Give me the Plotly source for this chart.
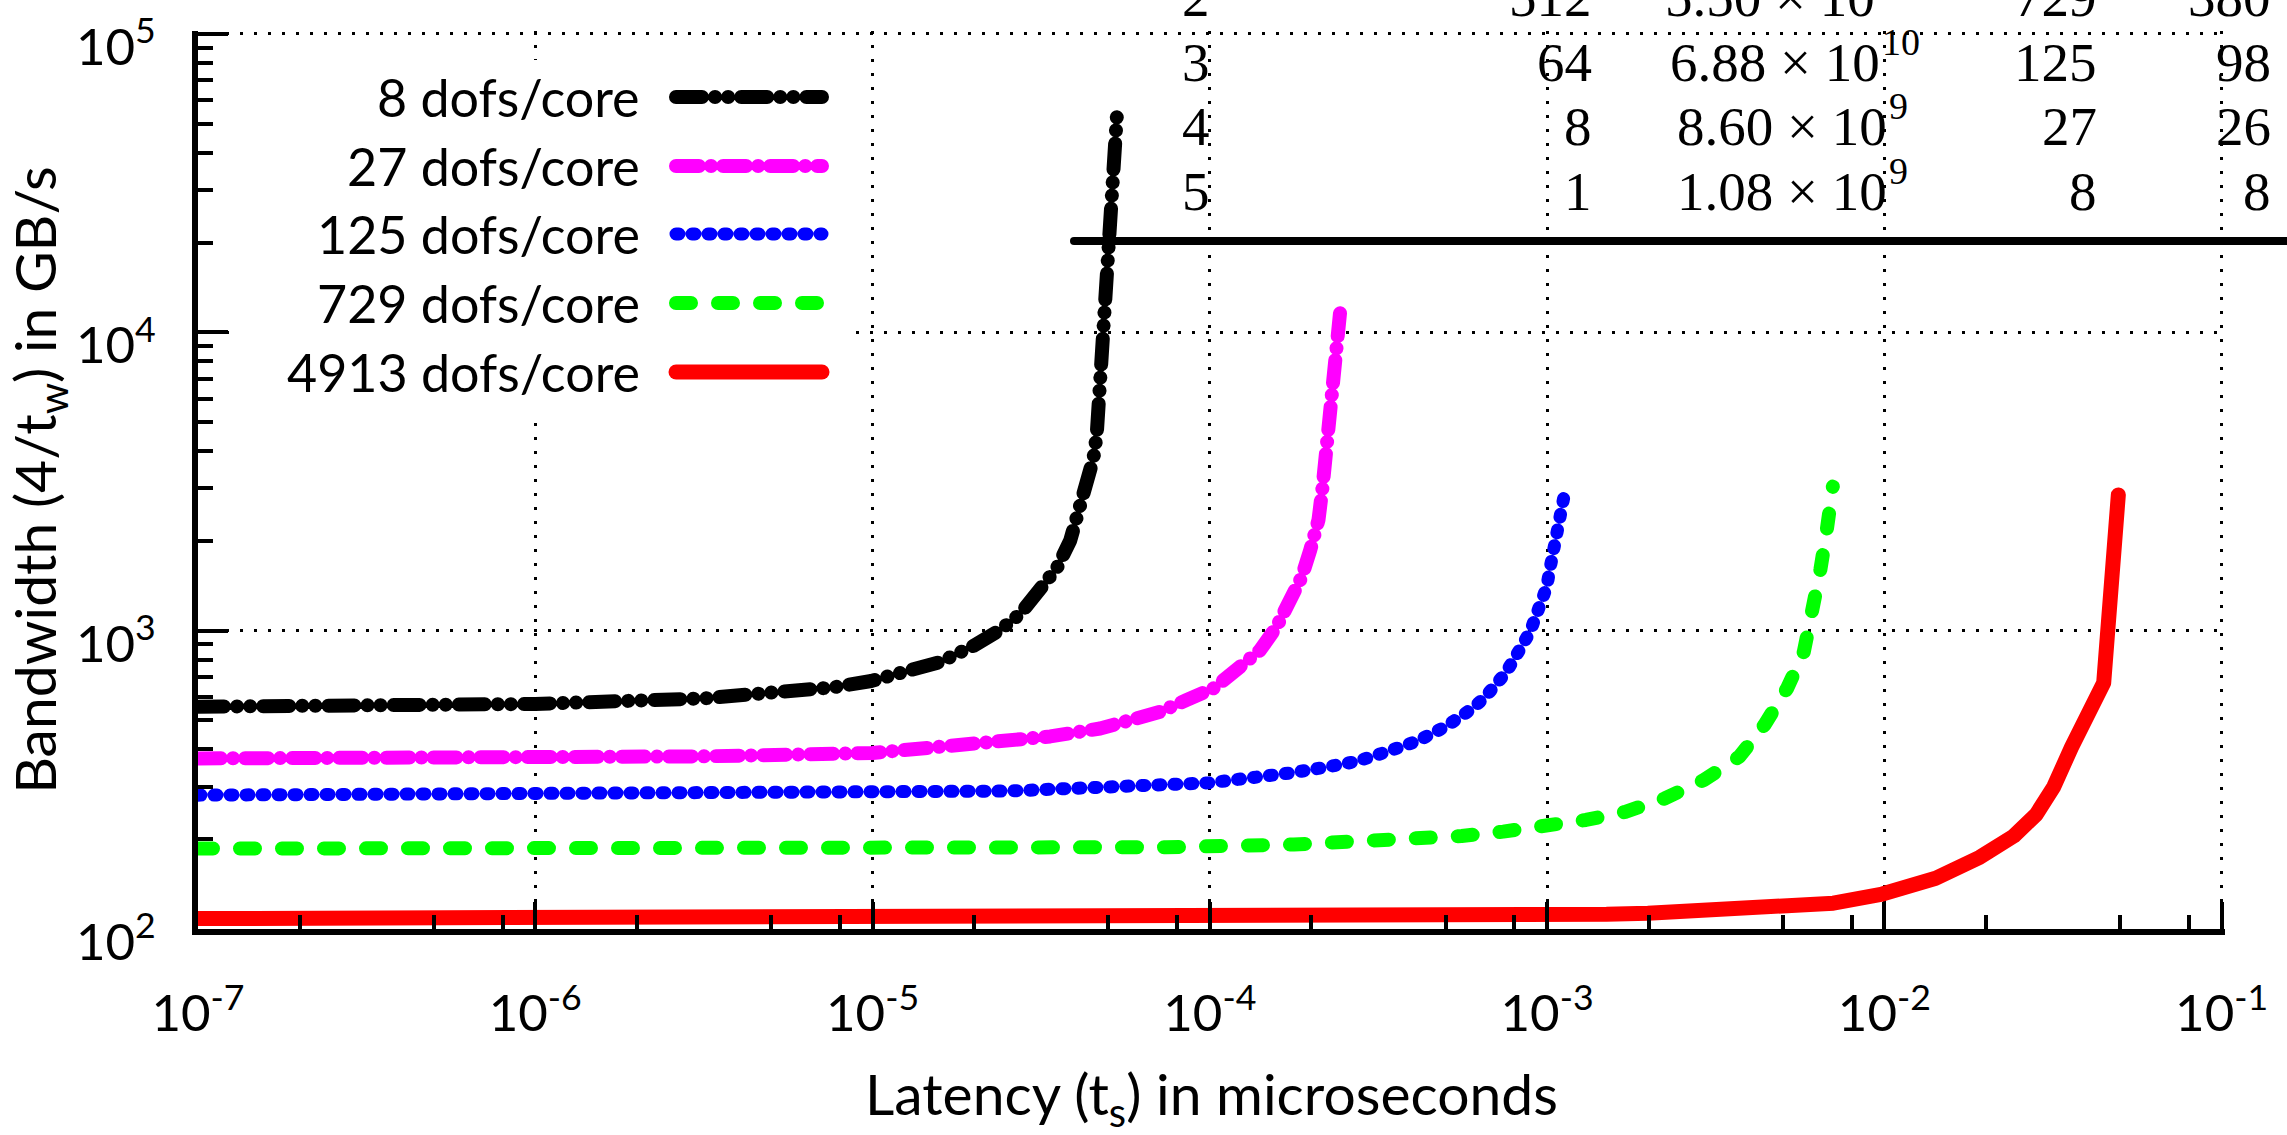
import plotly.graph_objects as go

# ---------------- data ----------------
series_names = ["8 dofs/core", "27 dofs/core", "125 dofs/core", "729 dofs/core", "4913 dofs/core"]

x_8 = [1e-7, 3.16e-7, 1e-6, 3.16e-6, 4.85e-6, 7.66e-6, 9.91e-6, 1.265e-5, 1.585e-5, 1.99e-5,
       2.39e-5, 2.74e-5, 3.14e-5, 3.52e-5, 3.855e-5, 4.13e-5, 4.315e-5, 4.52e-5, 4.62e-5,
       4.73e-5, 4.84e-5, 4.90e-5, 5.05e-5, 5.16e-5, 5.18e-5, 5.30e-5]
y_8 = [556, 558, 568, 593, 612, 646, 678, 731, 785, 889,
       1005, 1138, 1358, 1622, 2004, 2570, 3184, 3793, 4529,
       7194, 9886, 15136, 22750, 29650, 40830, 52720]

x_27 = [1e-7, 1e-6, 3.16e-6, 1e-5, 2.39e-5, 3.365e-5, 4.73e-5, 5.94e-5, 7.13e-5, 8.55e-5,
        1.026e-4, 1.23e-4, 1.41e-4, 1.58e-4, 1.73e-4, 1.875e-4, 1.986e-4, 2.10e-4, 2.16e-4,
        2.22e-4, 2.286e-4, 2.33e-4, 2.38e-4, 2.43e-4, 2.45e-4]
y_27 = [373, 375, 379, 389, 419, 442, 470, 502, 535, 586,
        641, 757, 861, 1033, 1236, 1517, 1866, 2350, 3041,
        4140, 5636, 7096, 8954, 11140, 12580]

x_125 = [1e-7, 1e-6, 1e-5, 2.51e-5, 1e-4, 1.393e-4, 1.75e-4, 2.19e-4, 2.71e-4, 3.36e-4,
         4.15e-4, 4.99e-4, 5.51e-4, 6.03e-4, 6.53e-4, 7.05e-4, 7.52e-4, 7.96e-4, 8.41e-4,
         8.91e-4, 9.25e-4, 9.62e-4, 9.98e-4, 1.016e-3, 1.040e-3, 1.064e-3, 1.086e-3,
         1.107e-3, 1.132e-3]
y_125 = [281, 282, 283, 290, 309, 320, 334, 348, 364, 393,
         428, 476, 508, 550, 597, 653, 719, 798, 883,
         993, 1114, 1250, 1403, 1578, 1795, 2037, 2291,
         2570, 2963]

x_729 = [1e-7, 1e-6, 1e-5, 7.41e-5, 1.774e-4, 2.355e-4, 3.13e-4, 4.21e-4, 5.58e-4, 7.41e-4,
         9.84e-4, 1.303e-3, 1.706e-3, 2.234e-3, 2.92e-3, 3.715e-3, 4.41e-3, 5.15e-3,
         5.77e-3, 6.15e-3, 6.46e-3, 6.75e-3, 7.035e-3]
y_729 = [186, 186, 187, 188, 192, 194, 197, 201, 205, 212,
         220, 232, 247, 274, 316, 378, 483, 641,
         849, 1143, 1598, 2178, 3041]

x_4913 = [1e-7, 1e-5, 1e-4, 3.16e-4, 9.84e-4, 1.5e-3, 1.99e-3, 3.16e-3, 4.53e-3, 7.06e-3,
          9.86e-3, 1.42e-2, 1.92e-2, 2.42e-2, 2.82e-2, 3.18e-2, 3.59e-2, 4.47e-2, 4.94e-2]
y_4913 = [108.4, 108.6, 109, 110, 111, 112, 113, 115, 118, 122,
          131, 148, 174, 205, 242, 300, 407, 668, 2851]

x_tick_vals = [1e-7, 1e-6, 1e-5, 1e-4, 1e-3, 1e-2, 1e-1]
x_tick_text = ["10<sup>-7</sup>", "10<sup>-6</sup>", "10<sup>-5</sup>", "10<sup>-4</sup>",
               "10<sup>-3</sup>", "10<sup>-2</sup>", "10<sup>-1</sup>"]
y_tick_vals = [1e2, 1e3, 1e4, 1e5]
y_tick_text = ["10<sup>2</sup>", "10<sup>3</sup>", "10<sup>4</sup>", "10<sup>5</sup>"]

# partially visible table (top right)
tab_col1 = ["2", "3", "4", "5"]
tab_col2 = ["512", "64", "8", "1"]
tab_mant = ["5.50", "6.88", "8.60", "1.08"]
tab_expo = ["11", "10", "9", "9"]
tab_col4 = ["729", "125", "27", "8"]
tab_col5 = ["380", "98", "26", "8"]

# ---------------- styling ----------------
W, H = 2287, 1135
L, R, T, B = 198, 62, 31, 206
PW, PH = W - L - R, H - T - B


def px(xp):
    return (xp - L) / PW


def py(yp):
    return (H - B - yp) / PH


colors = ["#000000", "#ff00ff", "#0000ff", "#00ff00", "#ff0000"]
widths = [14, 14, 13, 14, 15]
dashes = ["26px,13px,0.1px,13px,0.1px,13px", "23px,12px,0.1px,12px", "3px,13px", "15px,27px", "solid"]
xs = [x_8, x_27, x_125, x_729, x_4913]
ys = [y_8, y_27, y_125, y_729, y_4913]

fig = go.Figure()
for name, xv, yv, c, w, d in zip(series_names, xs, ys, colors, widths, dashes):
    fig.add_trace(go.Scatter(x=xv, y=yv, mode="lines", name=name, showlegend=False,
                             line=dict(color=c, width=w, dash=d), hoverinfo="skip"))

FONT = "Lato"
x_minor = [m * 10 ** e for e in range(-7, -1) for m in (2, 5, 8)]
y_minor = [m * 10 ** e for e in range(2, 5) for m in range(2, 10)]

grid = dict(showgrid=True, gridcolor="black", gridwidth=3, griddash="3px,11px")
fig.update_xaxes(type="log", range=[-7, -0.99], showline=True, linewidth=6, linecolor="black",
                 ticks="inside", ticklen=27, tickwidth=4, tickcolor="black",
                 tickmode="array", tickvals=x_tick_vals, ticktext=x_tick_text,
                 tickfont=dict(family=FONT, size=51, color="black"), ticklabelstandoff=35,
                 ticklabeloverflow="allow",
                 minor=dict(tickmode="array", tickvals=x_minor, ticks="inside", ticklen=14,
                            tickwidth=4, tickcolor="black", showgrid=False),
                 zeroline=False,
                 title=dict(text="Latency (t<sub>s</sub>) in microseconds",
                            font=dict(family=FONT, size=57, color="black"), standoff=40),
                 **grid)
fig.update_yaxes(type="log", range=[2, 5.01], showline=True, linewidth=6, linecolor="black",
                 ticks="inside", ticklen=30, tickwidth=4, tickcolor="black",
                 tickmode="array", tickvals=y_tick_vals, ticktext=y_tick_text,
                 tickfont=dict(family=FONT, size=51, color="black"), ticklabelstandoff=26,
                 ticklabelshift=13, ticklabeloverflow="allow",
                 minor=dict(tickmode="array", tickvals=y_minor, ticks="inside", ticklen=15,
                            tickwidth=4, tickcolor="black", showgrid=False),
                 zeroline=False,
                 title=dict(text="Bandwidth (4/t<sub>w</sub>) in GB/s",
                            font=dict(family=FONT, size=57, color="black"), standoff=20),
                 **grid)

shapes = []
annotations = []

# legend (text left, line sample right) on an opaque white box
shapes.append(dict(type="rect", xref="paper", yref="paper", x0=px(234), x1=px(852),
                   y0=py(418), y1=py(60), fillcolor="white", line=dict(width=0), layer="above"))
legend_rows = [97, 166, 234, 303, 372]
for name, c, w, d, yr in zip(series_names, colors, widths, dashes, legend_rows):
    annotations.append(dict(xref="paper", yref="paper", x=px(642), y=py(yr), text=name,
                            showarrow=False, xanchor="right", yanchor="middle",
                            font=dict(family=FONT, size=52, color="black")))
    shapes.append(dict(type="line", xref="paper", yref="paper", x0=px(676), x1=px(822),
                       y0=py(yr), y1=py(yr), layer="above",
                       line=dict(color=c, width=w, dash=d)))

# table fragment
shapes.append(dict(type="line", xref="paper", yref="paper", x0=px(1074), x1=px(2300),
                   y0=py(241), y1=py(241), layer="above", line=dict(color="black", width=8)))
row_y = [-3, 62, 126, 191]
mant_right = [1877, 1882, 1889, 1889]
SERIF = "Liberation Serif"
tf = dict(family=SERIF, size=55, color="black")
for i in range(4):
    yv = py(row_y[i])
    annotations.append(dict(xref="paper", yref="paper", x=px(1196), y=yv, text=tab_col1[i],
                            showarrow=False, xanchor="center", yanchor="middle", font=tf))
    annotations.append(dict(xref="paper", yref="paper", x=px(1594), y=yv, text=tab_col2[i],
                            showarrow=False, xanchor="right", yanchor="middle", font=tf))
    annotations.append(dict(xref="paper", yref="paper", x=px(mant_right[i]), y=yv,
                            text=tab_mant[i] + " \u00d7 10",
                            showarrow=False, xanchor="right", yanchor="middle", font=tf))
    annotations.append(dict(xref="paper", yref="paper", x=px(mant_right[i] - 2),
                            y=py(row_y[i] - 20), text=tab_expo[i],
                            showarrow=False, xanchor="left", yanchor="middle",
                            font=dict(family=SERIF, size=38, color="black")))
    annotations.append(dict(xref="paper", yref="paper", x=px(2099), y=yv, text=tab_col4[i],
                            showarrow=False, xanchor="right", yanchor="middle", font=tf))
    annotations.append(dict(xref="paper", yref="paper", x=px(2273), y=yv, text=tab_col5[i],
                            showarrow=False, xanchor="right", yanchor="middle", font=tf))

fig.update_layout(width=W, height=H, margin=dict(l=L, r=R, t=T, b=B, autoexpand=False),
                  paper_bgcolor="white", plot_bgcolor="white", showlegend=False,
                  hovermode=False, shapes=shapes, annotations=annotations,
                  font=dict(family=FONT, color="black"))

post = """
var gd = document.getElementById('{plot_id}');
function rc(){
  gd.querySelectorAll('.scatterlayer path.js-line, .shapelayer path').forEach(function(p){
    p.style.strokeLinecap = 'round'; p.style.strokeLinejoin = 'round';
  });
}
rc();
gd.on('plotly_afterplot', rc);
"""
fig.write_html("out.html", config={"displayModeBar": False, "staticPlot": True}, post_script=post)
